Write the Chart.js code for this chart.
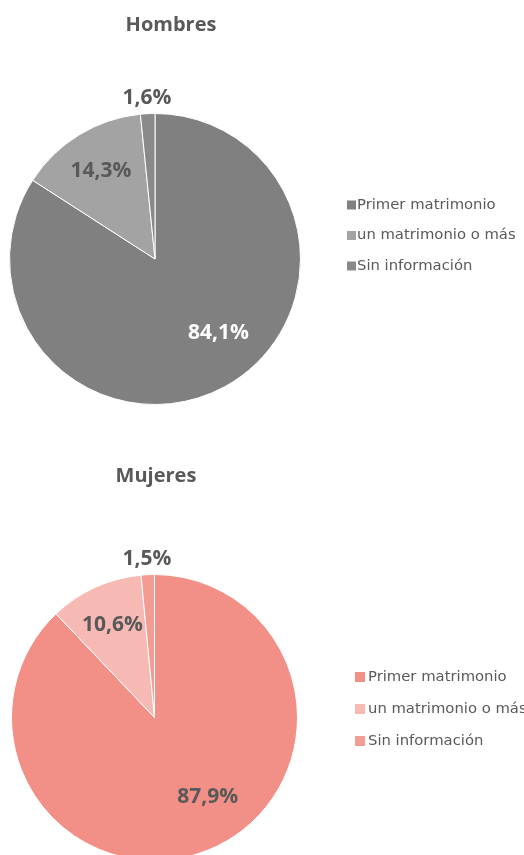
<!DOCTYPE html>
<html>
<head>
<meta charset="utf-8">
<script src="https://cdn.jsdelivr.net/npm/chart.js@4.4.1/dist/chart.umd.min.js"></script>
<style>
    html, body { margin: 0; padding: 0; background: #fff; width: 524px; height: 855px; overflow: hidden; }
    .chart-box { position: absolute; left: 0; width: 524px; }
</style>
</head>
<body>
<div class="chart-box" style="top:0;height:430px"><canvas id="chartHombres"></canvas></div>
<div class="chart-box" style="top:430px;height:440px"><canvas id="chartMujeres"></canvas></div>

<script>
// data
const categories = ['Primer matrimonio', 'un matrimonio o más', 'Sin información'];
const hombresValues = [84.1, 14.3, 1.6];
const mujeresValues = [87.9, 10.6, 1.5];

// styles
const hombresColors = ['#808080', '#a3a3a3', '#8a8a8a'];
const mujeresColors = ['#f28f86', '#f6b9b3', '#f39c94'];
const hombresLabelColors = ['#ffffff', '#595959', '#595959'];
const mujeresLabelColors = ['#595959', '#595959', '#595959'];
const TEXT_GREY = '#595959';

function fmt(v) {
    return v.toFixed(1).replace('.', ',') + '%';
}

// draws the title, the % labels on the slices and the legend on the right
const decorPlugin = {
    id: 'decor',
    afterDraw(chart, args, opts) {
        const ctx = chart.ctx;
        const meta = chart.getDatasetMeta(0);
        const values = chart.data.datasets[0].data;
        ctx.save();

        // title
        ctx.fillStyle = TEXT_GREY;
        ctx.font = 'bold 20px "Open Sans"';
        ctx.textAlign = 'center';
        ctx.textBaseline = 'alphabetic';
        ctx.fillText(opts.title, opts.titleX, opts.titleY);

        // slice labels (small ones go outside, big ones like excel's best fit)
        ctx.font = 'bold 21px "Open Sans"';
        ctx.textBaseline = 'middle';
        meta.data.forEach((arc, i) => {
            const p = arc.getProps(['x', 'y', 'startAngle', 'endAngle', 'outerRadius'], true);
            let mid = (p.startAngle + p.endAngle) / 2;
            let f = 0.71;
            if (values[i] < 5) f = 1.11;
            if (values[i] > 50) { mid -= 0.21; f = 0.67; }
            ctx.fillStyle = opts.labelColors[i];
            ctx.fillText(fmt(values[i]), p.x + Math.cos(mid) * p.outerRadius * f, p.y + Math.sin(mid) * p.outerRadius * f);
        });

        // legend
        ctx.font = '14.8px "DejaVu Sans", sans-serif';
        ctx.textAlign = 'left';
        const b = opts.boxSize;
        chart.data.labels.forEach((lab, i) => {
            const y = opts.legendY + i * opts.legendGap;
            ctx.fillStyle = chart.data.datasets[0].backgroundColor[i];
            ctx.fillRect(opts.legendX, y - b / 2, b, b);
            ctx.fillStyle = TEXT_GREY;
            ctx.fillText(lab, opts.legendX + opts.legendText, y);
        });
        ctx.restore();
    }
};

function createPie(id, values, colors, padding, decor) {
    const ctx = document.getElementById(id).getContext('2d');
    return new Chart(ctx, {
        type: 'pie',
        data: {
            labels: categories,
            datasets: [{
                data: values,
                backgroundColor: colors,
                borderColor: '#ffffff',
                borderWidth: 1,
                hoverOffset: 0
            }]
        },
        options: {
            responsive: true,
            maintainAspectRatio: false,
            animation: false,
            layout: { padding: padding },
            plugins: {
                legend: { display: false },
                tooltip: { enabled: false },
                decor: decor
            }
        },
        plugins: [decorPlugin]
    });
}

createPie('chartHombres', hombresValues, hombresColors,
    { left: 9, right: 223, top: 113, bottom: 25 },
    { title: 'Hombres', titleX: 171, titleY: 31, labelColors: hombresLabelColors,
      legendX: 347, legendText: 10, boxSize: 9, legendY: 205, legendGap: 30.5 });

createPie('chartMujeres', mujeresValues, mujeresColors,
    { left: 11, right: 226, top: 144, bottom: 9 },
    { title: 'Mujeres', titleX: 156, titleY: 52, labelColors: mujeresLabelColors,
      legendX: 355, legendText: 13, boxSize: 10, legendY: 247, legendGap: 32 });
</script>
</body>
</html>
